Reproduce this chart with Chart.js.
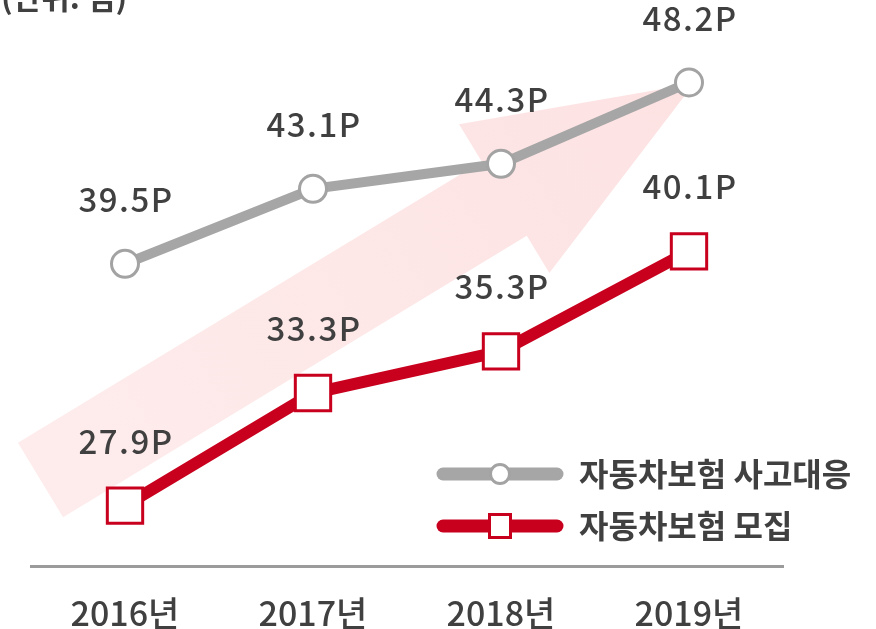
<!DOCTYPE html>
<html>
<head>
<meta charset="utf-8">
<script src="https://cdn.jsdelivr.net/npm/chart.js@4"></script>
<style>
  html, body { margin: 0; padding: 0; background: #fff; }
  #wrap { position: relative; width: 876px; height: 629px; }
</style>
</head>
<body>
<div id="wrap"><canvas id="chart"></canvas></div>
<script>
// years along the bottom:
let years = ['2016년', '2017년', '2018년', '2019년'];
// 자동차보험 사고대응 (grey line with circles):
let accidentScores = [39.5, 43.1, 44.3, 48.2];
// 자동차보험 모집 (red line with squares):
let salesScores = [27.9, 33.3, 35.3, 40.1];
// names for the legend:
let seriesNames = ['자동차보험 사고대응', '자동차보험 모집'];
let unitLabel = '(단위: 점)';
let valueSuffix = 'P';

const grey = '#a6a6a6';
const red = '#c8001e';
const textColor = '#404040';
const fontFamily = "'Noto Sans CJK KR', 'Noto Sans', sans-serif";

// big pale arrow behind the lines, ending at the last grey point:
const arrowPlugin = {
  id: 'arrow',
  beforeDatasetsDraw(chart) {
    const ctx = chart.ctx;
    const area = chart.chartArea;
    const last = chart.getDatasetMeta(0).data[3];
    const tip = { x: last.x + 5, y: last.y + 1 };
    const tail = { x: area.left + 9.5, y: area.bottom - 86 };
    const dx = tip.x - tail.x, dy = tip.y - tail.y;
    const len = Math.hypot(dx, dy);
    const u = { x: dx / len, y: dy / len };
    const n = { x: u.y, y: -u.x };
    const shaft = 43.5, head = 87, headLen = 222;
    const base = { x: tip.x - u.x * headLen, y: tip.y - u.y * headLen };
    const pt = (p, k) => [p.x + n.x * k, p.y + n.y * k];
    const pts = [
      pt(tail, shaft), pt(base, shaft), pt(base, head), [tip.x, tip.y],
      pt(base, -head), pt(base, -shaft), pt(tail, -shaft)
    ];
    const grad = ctx.createLinearGradient(tail.x, tail.y, tip.x, tip.y);
    grad.addColorStop(0, '#feecec');
    grad.addColorStop(1, '#fde2e2');
    ctx.save();
    ctx.beginPath();
    pts.forEach((p, i) => i ? ctx.lineTo(p[0], p[1]) : ctx.moveTo(p[0], p[1]));
    ctx.closePath();
    ctx.fillStyle = grad;
    ctx.fill();
    ctx.restore();
  }
};

// value labels above each point:
const valueLabels = {
  id: 'valueLabels',
  afterDatasetsDraw(chart) {
    const ctx = chart.ctx;
    ctx.save();
    ctx.font = '500 33px ' + fontFamily;
    ctx.fillStyle = textColor;
    ctx.textAlign = 'center';
    ctx.textBaseline = 'alphabetic';
    ctx.letterSpacing = '1.5px';
    chart.data.datasets.forEach((ds, i) => {
      chart.getDatasetMeta(i).data.forEach((p, j) => {
        ctx.fillText(ds.data[j].toFixed(1) + valueSuffix, p.x + 1, p.y - 52);
      });
    });
    ctx.restore();
  }
};

// legend drawn as a thick line with the marker in the middle:
const lineLegend = {
  id: 'lineLegend',
  afterDraw(chart) {
    const ctx = chart.ctx;
    const x0 = 443, x1 = 557, textX = 579;
    const rows = [474, 526];
    ctx.save();
    chart.data.datasets.forEach((ds, i) => {
      const y = rows[i];
      const mid = (x0 + x1) / 2;
      ctx.beginPath();
      ctx.moveTo(x0, y);
      ctx.lineTo(x1, y);
      ctx.lineWidth = 13;
      ctx.lineCap = 'round';
      ctx.strokeStyle = ds.borderColor;
      ctx.stroke();
      ctx.lineWidth = 3;
      ctx.fillStyle = '#fff';
      ctx.strokeStyle = ds.pointBorderColor;
      ctx.beginPath();
      if (ds.pointStyle === 'rect') {
        ctx.rect(mid - 10.5, y - 11.5, 21, 23);
      } else {
        ctx.arc(mid, y, 9.5, 0, Math.PI * 2);
      }
      ctx.fill();
      ctx.stroke();
      ctx.font = 'bold 32px ' + fontFamily;
      ctx.fillStyle = textColor;
      ctx.textAlign = 'left';
      ctx.textBaseline = 'middle';
      ctx.fillText(seriesNames[i], textX, y);
    });
    ctx.restore();
  }
};

// unit note in the top left corner (cut off by the edge):
const unitNote = {
  id: 'unitNote',
  afterDraw(chart) {
    const ctx = chart.ctx;
    ctx.save();
    ctx.font = 'bold 31px ' + fontFamily;
    ctx.fillStyle = textColor;
    ctx.textAlign = 'left';
    ctx.textBaseline = 'alphabetic';
    ctx.fillText(unitLabel, 1, 9);
    ctx.restore();
  }
};

const data = {
  labels: years,
  datasets: [{
    label: seriesNames[0],
    data: accidentScores,
    borderColor: grey,
    borderWidth: 10,
    pointStyle: 'circle',
    pointRadius: 13.5,
    pointBorderWidth: 3,
    pointBackgroundColor: '#fff',
    pointBorderColor: '#a3a3a3'
  }, {
    label: seriesNames[1],
    data: salesScores,
    borderColor: red,
    borderWidth: 12,
    pointStyle: 'rect',
    pointRadius: 25,
    pointBorderWidth: 3,
    pointBackgroundColor: '#fff',
    pointBorderColor: red
  }]
};

const config = {
  type: 'line',
  data: data,
  options: {
    responsive: true,
    maintainAspectRatio: false,
    animation: false,
    events: [],
    layout: { padding: { left: 31, right: 93, top: 45, bottom: 0 } },
    plugins: {
      legend: { display: false },
      tooltip: { enabled: false }
    },
    scales: {
      x: {
        offset: true,
        grid: { display: false, drawTicks: false },
        border: { display: true, color: '#9b9b9b', width: 3 },
        ticks: {
          color: textColor,
          font: { family: fontFamily, size: 34, weight: '500' },
          padding: 27
        },
        afterFit: (scale) => { scale.height = 63; }
      },
      y: {
        display: false,
        min: 25,
        max: 50
      }
    }
  },
  plugins: [arrowPlugin, valueLabels, lineLegend, unitNote]
};

const chart = new Chart(document.getElementById('chart'), config);
</script>
</body>
</html>
